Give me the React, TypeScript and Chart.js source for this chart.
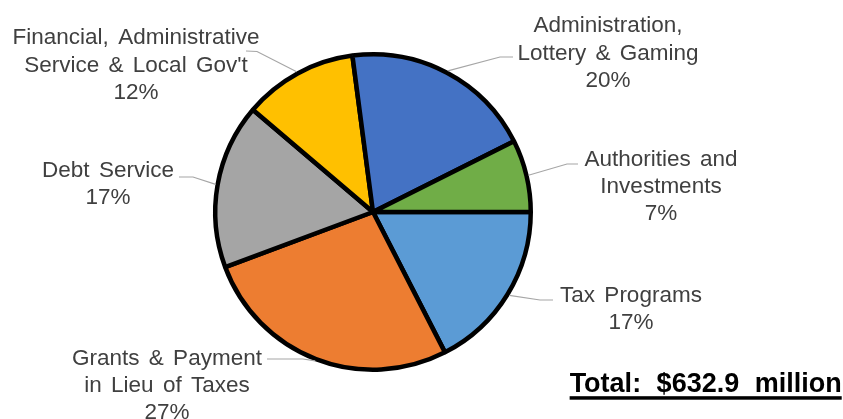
import React, { useEffect, useRef } from "react";
import { Chart, registerables } from "chart.js";

Chart.register(...registerables);

// ---- data ----
const categories: string[][] = [
  ["Tax Programs"],
  ["Grants & Payment", "in Lieu of Taxes"],
  ["Debt Service"],
  ["Financial, Administrative", "Service & Local Gov't"],
  ["Administration,", "Lottery & Gaming"],
  ["Authorities and", "Investments"],
];
const values: number[] = [110.5, 170.0, 107.0, 74.0, 124.6, 46.8]; // $ millions
const colors: string[] = ["#5B9BD5", "#ED7D31", "#A5A5A5", "#FFC000", "#4472C4", "#70AD47"];
const totalPrefix = "Total:";
const totalUnit = "million";

// ---- label layout (relative to pie centre, px) ----
// cx: text centre x, y0: first baseline, s: leader start next to text, e: leader elbow
const labelLayout = [
  { cx: 258, y0: 89.7, sx: 180, sy: 88, ex: 167, ey: 88 },
  { cx: -206, y0: 153, sx: -106, sy: 147, ex: -70, ey: 147 },
  { cx: -265, y0: -35.3, sx: -194, sy: -35, ex: -180, ey: -35 },
  { cx: -237, y0: -167.7, sx: -127, sy: -161, ex: -116, ey: -160.5 },
  { cx: 235, y0: -179.7, sx: 140, sy: -155, ex: 127, ey: -155 },
  { cx: 288, y0: -46, sx: 205, sy: -48, ex: 194, ey: -48 },
];
const LINE_H = 27.2;
const FONT = '"Liberation Sans", Arial, sans-serif';

const labelPlugin = {
  id: "excelLabels",
  afterDatasetsDraw(chart: any) {
    const ctx: CanvasRenderingContext2D = chart.ctx;
    const meta = chart.getDatasetMeta(0);
    const total = values.reduce((a, b) => a + b, 0);
    ctx.save();
    meta.data.forEach((arc: any, i: number) => {
      const { x, y, startAngle, endAngle, outerRadius } = arc.getProps(
        ["x", "y", "startAngle", "endAngle", "outerRadius"],
        true
      );
      const mid = (startAngle + endAngle) / 2;
      const r = outerRadius + 2;
      const px = x + Math.cos(mid) * r;
      const py = y + Math.sin(mid) * r;
      const L = labelLayout[i];
      // leader line
      ctx.strokeStyle = "#A6A6A6";
      ctx.lineWidth = 1.2;
      ctx.beginPath();
      ctx.moveTo(x + L.sx, y + L.sy);
      ctx.lineTo(x + L.ex, y + L.ey);
      ctx.lineTo(px, py);
      ctx.stroke();
      // text
      const lines = [...categories[i], Math.round((values[i] / total) * 100) + "%"];
      ctx.fillStyle = "#404040";
      ctx.font = `22.5px ${FONT}`;
      (ctx as any).wordSpacing = "3px";
      ctx.textAlign = "center";
      ctx.textBaseline = "alphabetic";
      lines.forEach((t, k) => {
        ctx.fillText(t, x + L.cx, y + L.y0 + k * LINE_H);
      });
    });
    // total
    const totalText = `${totalPrefix} $${total.toFixed(1)} ${totalUnit}`;
    ctx.font = `bold 27px ${FONT}`;
    (ctx as any).wordSpacing = "8px";
    ctx.fillStyle = "#000000";
    ctx.textAlign = "right";
    const right = chart.width - 1.3;
    const base = chart.height - 27.3;
    ctx.fillText(totalText, right, base);
    const w = ctx.measureText(totalText).width;
    ctx.fillRect(right - w, base + 4.5, w, 3.5);
    ctx.restore();
  },
};

export default function App() {
  const ref = useRef<HTMLCanvasElement | null>(null);
  useEffect(() => {
    if (!ref.current) return;
    const chart = new Chart(ref.current, {
      type: "pie",
      data: {
        labels: categories.map((c) => c.join(" ")),
        datasets: [
          {
            data: values,
            backgroundColor: colors,
            borderColor: "#000000",
            borderWidth: 4.5,
            hoverBorderWidth: 4.5,
          },
        ],
      },
      options: {
        responsive: false,
        animation: false,
        rotation: 90,
        layout: { padding: { left: 213, right: 310, top: 52, bottom: 47 } },
        plugins: {
          legend: { display: false },
          tooltip: { enabled: false },
        },
        events: [],
      },
      plugins: [labelPlugin],
    });
    return () => chart.destroy();
  }, []);
  return (
    <div style={{ position: "fixed", left: 0, top: 0, width: 843, height: 419, background: "#fff" }}>
      <canvas ref={ref} width={843} height={419} style={{ display: "block" }} />
    </div>
  );
}
